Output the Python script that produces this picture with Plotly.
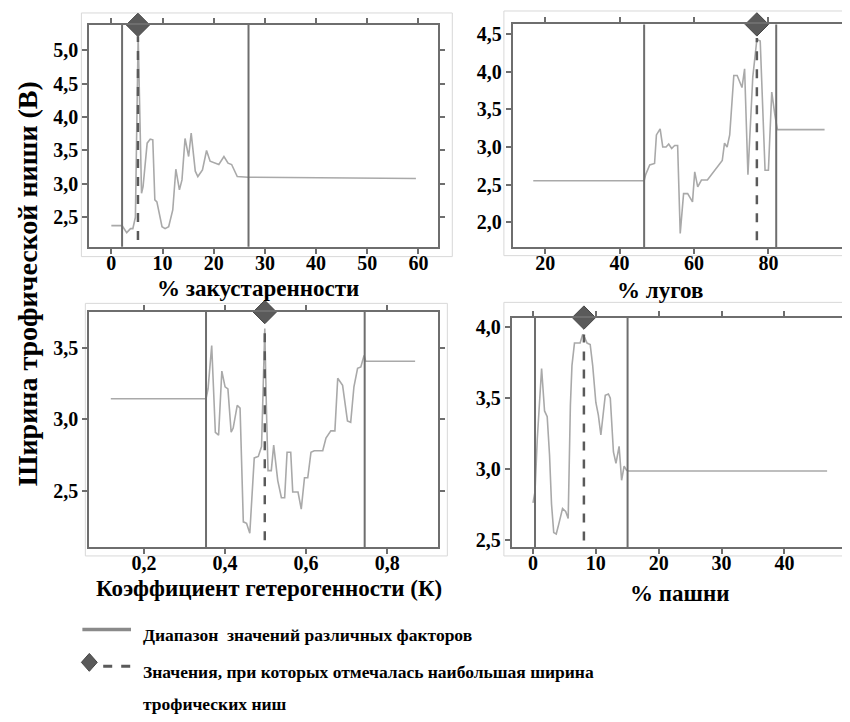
import plotly.graph_objects as go

# ---------------- data ----------------
# Panel 1: % закустаренности
shrub_x = [0, 2.1, 3.0, 3.75, 4.2, 4.7, 5.24, 5.9, 6.2, 7.0, 7.6, 8.1, 8.5, 8.9, 9.9, 10.5, 11.2, 12.0,
           12.6, 13.3, 13.8, 14.4, 15.1, 15.6, 16.4, 16.9, 17.8, 18.6, 19.3, 20.2, 21.0, 22.0, 22.8,
           23.5, 24.6, 26.7, 59.5]
shrub_b = [2.375, 2.375, 2.27, 2.33, 2.33, 2.5, 5.21, 2.86, 2.96, 3.61, 3.67, 3.66, 2.76, 2.73, 2.36,
           2.33, 2.36, 2.61, 3.22, 2.91, 3.06, 3.68, 3.41, 3.76, 3.19, 3.11, 3.21, 3.5, 3.34, 3.31,
           3.29, 3.41, 3.31, 3.29, 3.11, 3.1, 3.08]
shrub_range = [2.1, 26.8]
shrub_opt = [5.2, 5.21]

# Panel 2: % лугов
meadow_x = [16.8, 46.6, 47.0, 48.1, 49.4, 49.9, 50.9, 51.6, 52.5, 53.2, 54.0, 54.8, 55.6, 56.3, 57.2,
            58.3, 59.6, 60.2, 61.0, 62.0, 63.6, 65.4, 67.6, 68.2, 68.9, 69.6, 70.7, 71.6, 72.9, 73.6,
            74.5, 75.8, 76.9, 77.8, 79.1, 80.0, 80.9, 81.7, 82.4, 95.1]
meadow_b = [2.55, 2.55, 2.63, 2.76, 2.78, 3.16, 3.24, 3.0, 3.0, 3.04, 2.98, 3.02, 3.02, 1.85, 2.38,
            2.38, 2.27, 2.67, 2.47, 2.56, 2.56, 2.67, 2.82, 3.05, 3.0, 3.16, 3.95, 3.95, 3.79, 4.04,
            2.63, 3.93, 4.43, 4.41, 2.69, 2.69, 3.73, 3.44, 3.23, 3.23]
meadow_range = [46.6, 82.1]
meadow_opt = [76.9, 4.45]

# Panel 3: Коэффициент гетерогенности (К)
het_x = [0.118, 0.353, 0.358, 0.367, 0.376, 0.384, 0.392, 0.400, 0.407, 0.415, 0.420, 0.430, 0.437,
         0.445, 0.453, 0.461, 0.472, 0.482, 0.490, 0.495, 0.498, 0.502, 0.506, 0.514, 0.520, 0.530,
         0.539, 0.547, 0.553, 0.562, 0.567, 0.580, 0.588, 0.596, 0.604, 0.612, 0.620, 0.641, 0.649,
         0.661, 0.671, 0.678, 0.690, 0.702, 0.710, 0.718, 0.727, 0.735, 0.743, 0.747, 0.869]
het_b = [3.146, 3.146, 3.216, 3.52, 2.91, 2.89, 3.34, 3.23, 3.215, 2.91, 2.94, 3.1, 3.08, 2.28, 2.27,
         2.2, 2.73, 2.74, 2.81, 3.24, 3.64, 3.08, 2.64, 2.64, 2.82, 2.57, 2.45, 2.45, 2.77, 2.77,
         2.49, 2.49, 2.37, 2.59, 2.59, 2.77, 2.78, 2.78, 2.87, 2.92, 2.92, 3.29, 3.24, 2.99, 2.98,
         3.23, 3.36, 3.37, 3.45, 3.41, 3.41]
het_range = [0.353, 0.7445]
het_opt = [0.498, 3.66]

# Panel 4: % пашни
arable_x = [0, 0.32, 0.68, 1.37, 1.84, 2.26, 2.63, 2.95, 3.3, 3.7, 4.1, 4.7, 5.2, 5.6, 5.95, 6.2, 6.6,
            7.2, 7.5, 7.9, 8.2, 8.6, 9.1, 9.5, 10.0, 10.4, 10.8, 11.5, 12.0, 12.3, 12.8, 13.2, 13.7,
            14.1, 14.5, 14.9, 15.2, 46.8]
arable_b = [2.76, 2.84, 3.21, 3.71, 3.41, 3.37, 3.1, 2.75, 2.55, 2.54, 2.61, 2.72, 2.7, 2.65, 3.45,
            3.73, 3.89, 3.89, 3.89, 3.95, 3.93, 3.89, 3.88, 3.73, 3.47, 3.38, 3.24, 3.52, 3.53, 3.5,
            3.12, 3.04, 3.16, 2.92, 3.02, 2.99, 2.985, 2.985]
arable_range = [0.32, 15.05]
arable_opt = [8.1, 3.95]

x_titles = ["% закустаренности", "% лугов", "Коэффициент гетерогенности (К)", "% пашни"]
y_title = "Ширина трофической ниши (B)"
legend_texts = ["Диапазон  значений различных факторов",
                "Значения, при которых отмечалась наибольшая ширина",
                "трофических ниш"]

x_ticks = [[0, 10, 20, 30, 40, 50, 60], [20, 40, 60, 80], [0.2, 0.4, 0.6, 0.8], [0, 10, 20, 30, 40]]
y_ticks = [[2.5, 3.0, 3.5, 4.0, 4.5, 5.0], [2.0, 2.5, 3.0, 3.5, 4.0, 4.5], [2.5, 3.0, 3.5],
           [2.5, 3.0, 3.5, 4.0]]

# ---------------- layout config ----------------
W, H = 850, 722
OFF = 8  # page body margin of the browser
SERIF = "Liberation Serif"
FRAME = "#6e6e6e"
CURVE = "#a9a9a9"
OPTC = "#5a5a5a"


def px(x):
    return min(1.0, max(0.0, (x - OFF) / W))


def py(y):
    return min(1.0, max(0.0, 1 - (y - OFF) / H))


panels = [
    dict(x=shrub_x, y=shrub_b, rng=shrub_range, opt=shrub_opt,
         dom=([90, 442], [24, 247]), xr=[-4.3, 63.9], yr=[2.06, 5.38], xf="d"),
    dict(x=meadow_x, y=meadow_b, rng=meadow_range, opt=meadow_opt,
         dom=([517, 858], [23.5, 247.3]), xr=[11.3, 102.2], yr=[1.67, 4.63], xf="d"),
    dict(x=het_x, y=het_b, rng=het_range, opt=het_opt,
         dom=([90, 442], [312.7, 549.3]), xr=[0.065, 0.9265], yr=[2.101, 3.756], xf=".1f"),
    dict(x=arable_x, y=arable_b, rng=arable_range, opt=arable_opt,
         dom=([516, 858], [318.3, 549.3]), xr=[-3.37, 50.6], yr=[2.446, 4.07], xf="d"),
]

title_pos = [(260, 289), (665, 291), (271, 591), (685, 596)]
outer_frames = [(82, 12, 456, 257), (508, 10, 870, 256), (86, 304, 451, 558), (508, 303, 870, 558)]

fig = go.Figure()
layout = dict(
    width=W, height=H,
    margin=dict(l=0, r=0, t=0, b=0),
    paper_bgcolor="white", plot_bgcolor="white",
    showlegend=False,
    separators=", ",
    shapes=[], annotations=[],
)

for i, p in enumerate(panels):
    n = i + 1
    xa = "x" if n == 1 else f"x{n}"
    ya = "y" if n == 1 else f"y{n}"
    xk = "xaxis" if n == 1 else f"xaxis{n}"
    yk = "yaxis" if n == 1 else f"yaxis{n}"
    (xl, xrr), (yt, yb) = p["dom"]
    tickfont = dict(family=SERIF, size=20, color="black", weight="bold")
    layout[xk] = dict(domain=[px(xl), px(xrr)], anchor=ya, range=p["xr"],
                      showline=True, linecolor=FRAME, linewidth=2, mirror="ticks",
                      ticks="outside", ticklen=5, tickwidth=1.5, tickcolor=FRAME,
                      tickvals=x_ticks[i], tickformat=p["xf"], tickfont=tickfont,
                      ticklabelstandoff=-8,
                      showgrid=False, zeroline=False)
    layout[yk] = dict(domain=[py(yb), py(yt)], anchor=xa, range=p["yr"],
                      showline=True, linecolor=FRAME, linewidth=2, mirror="ticks",
                      ticks="outside", ticklen=5, tickwidth=1.5, tickcolor=FRAME,
                      tickvals=y_ticks[i], tickformat=".1f", tickfont=tickfont,
                      showgrid=False, zeroline=False)

    # curve
    fig.add_trace(go.Scatter(x=p["x"], y=p["y"], xaxis=xa, yaxis=ya, mode="lines",
                             line=dict(color=CURVE, width=1.6), hoverinfo="skip"))
    # range bounds (vertical lines)
    for v in p["rng"]:
        layout["shapes"].append(dict(type="line", xref=xa, yref=f"{ya} domain",
                                     x0=v, x1=v, y0=0, y1=1,
                                     line=dict(color=FRAME, width=2)))
    # optimum dashed line
    layout["shapes"].append(dict(type="line", xref=xa, yref=ya,
                                 x0=p["opt"][0], x1=p["opt"][0],
                                 y0=p["yr"][0] + 0.03 * (p["yr"][1] - p["yr"][0]), y1=p["opt"][1],
                                 line=dict(color=OPTC, width=2.5, dash="dash")))
    # diamond marker on top frame
    fig.add_trace(go.Scatter(x=[p["opt"][0]], y=[p["yr"][1]], xaxis=xa, yaxis=ya, mode="markers",
                             marker=dict(symbol="diamond", size=18, color=OPTC,
                                         line=dict(color="#444444", width=1)),
                             cliponaxis=False, hoverinfo="skip"))
    # light outer frame
    x0, y0, x1, y1 = outer_frames[i]
    layout["shapes"].append(dict(type="rect", xref="paper", yref="paper",
                                 x0=px(x0), x1=(x1 - OFF) / W, y0=py(y1), y1=py(y0),
                                 line=dict(color="#d8d8d8", width=1), layer="below"))
    # x axis title
    tx, ty = title_pos[i]
    layout["annotations"].append(dict(text=x_titles[i], xref="paper", yref="paper",
                                      x=px(tx), y=py(ty), xanchor="center", yanchor="middle",
                                      showarrow=False,
                                      font=dict(family=SERIF, size=23, color="black", weight="bold")))

# y axis title
layout["annotations"].append(dict(text=y_title, xref="paper", yref="paper", x=px(28), y=py(284),
                                  xanchor="center", yanchor="middle", textangle=-90, showarrow=False,
                                  font=dict(family=SERIF, size=28, color="black", weight="bold")))

# legend
leg_font = dict(family=SERIF, size=17.5, color="black", weight="bold")
for txt, yy in zip(legend_texts, [637, 675, 707]):
    layout["annotations"].append(dict(text=txt, xref="paper", yref="paper", x=px(142), y=py(yy),
                                      xanchor="left", yanchor="middle", showarrow=False,
                                      font=leg_font))
layout["shapes"].append(dict(type="line", xref="paper", yref="paper",
                             x0=px(83), x1=px(132), y0=py(632), y1=py(632),
                             line=dict(color="#8a8a8a", width=3.5)))
cx, cy = 90, 665
layout["shapes"].append(dict(type="path", xref="paper", yref="paper",
                             path=f"M {px(cx-8)},{py(cy)} L {px(cx)},{py(cy-9)} L {px(cx+8)},{py(cy)} "
                                  f"L {px(cx)},{py(cy+9)} Z",
                             fillcolor=OPTC, line=dict(color="#444444", width=1)))
layout["shapes"].append(dict(type="line", xref="paper", yref="paper",
                             x0=px(104), x1=px(132), y0=py(669), y1=py(669),
                             line=dict(color=OPTC, width=3, dash="dash")))

fig.update_layout(**layout)
fig.write_html("out.html")
